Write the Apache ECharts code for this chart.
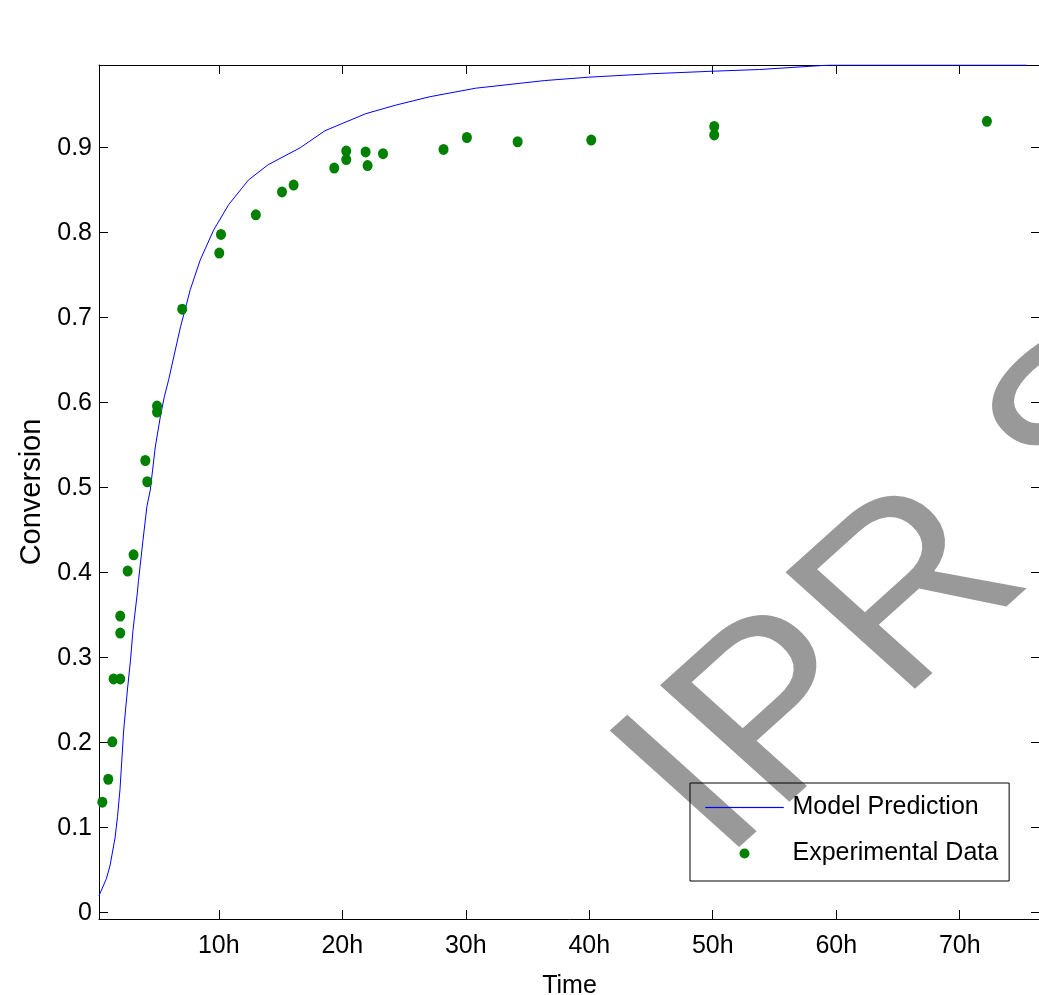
<!DOCTYPE html>
<html>
<head>
<meta charset="utf-8">
<script src="https://cdn.jsdelivr.net/npm/echarts@6/dist/echarts.min.js"></script>
<style>
  html, body { margin: 0; padding: 0; background: #fff; }
  #chart { width: 1039px; height: 995px; }
</style>
</head>
<body>
<div id="chart"></div>
<script>
// experimental points (time in h, conversion)
const expTime = [0.57, 1.05, 1.38, 1.48, 2.02, 2.02, 2.02, 2.62, 3.1, 4.05, 4.21, 5.0, 5.0,
  7.04, 10.04, 10.18, 13.0, 15.12, 16.06, 19.35, 20.32, 20.32, 21.89, 22.05, 23.3,
  28.2, 30.09, 34.2, 40.16, 50.12, 50.12, 72.2];
const expConv = [0.130, 0.157, 0.201, 0.275, 0.275, 0.329, 0.349, 0.402, 0.421, 0.532, 0.507, 0.596, 0.589,
  0.710, 0.776, 0.798, 0.821, 0.848, 0.856, 0.876, 0.896, 0.886, 0.895, 0.879, 0.893,
  0.898, 0.912, 0.907, 0.909, 0.925, 0.915, 0.931];

// model curve
const modelTime = [0.3, 0.9, 1.2, 1.6, 1.8, 2.0, 2.3, 2.6, 2.85, 3.05, 3.4, 3.5, 3.86, 4.18, 4.45,
  4.86, 5.26, 5.59, 5.94, 6.88, 7.69, 8.5, 9.58, 10.8, 12.4, 14.0, 16.6, 18.6, 21.9,
  24.3, 27.1, 30.8, 36.4, 40, 45, 50, 53.8, 59.5, 75.4];
const modelConv = [0.02, 0.04, 0.056, 0.088, 0.113, 0.145, 0.215, 0.262, 0.297, 0.332, 0.376, 0.391, 0.438, 0.478, 0.497,
  0.548, 0.583, 0.607, 0.627, 0.688, 0.733, 0.768, 0.803, 0.833, 0.862, 0.88, 0.90, 0.92, 0.94,
  0.95, 0.96, 0.97, 0.979, 0.983, 0.987, 0.99, 0.992, 0.9973, 0.9973];

const xTicks = [10, 20, 30, 40, 50, 60, 70];
const yTicks = [0, 0.1, 0.2, 0.3, 0.4, 0.5, 0.6, 0.7, 0.8, 0.9];

const font = "'Liberation Sans', Arial, sans-serif";

const chart = echarts.init(document.getElementById("chart"));

const xBase = {
  type: "value",
  min: 0.3,
  max: 76.5,
  splitLine: { show: false },
  axisLine: { show: true, onZero: false, lineStyle: { color: "#000", width: 1 } },
  axisTick: { show: true, inside: true, length: 9, customValues: xTicks, lineStyle: { color: "#000" } },
};
const yBase = {
  type: "value",
  min: -0.0074,
  max: 0.9973,
  splitLine: { show: false },
  axisLine: { show: true, onZero: false, lineStyle: { color: "#000", width: 1 } },
  axisTick: { show: true, inside: true, length: 9, customValues: yTicks, lineStyle: { color: "#000" } },
};

chart.setOption({
  backgroundColor: "#fff",
  animation: false,
  textStyle: { fontFamily: font },
  grid: { left: 99, top: 65, width: 941, height: 854, outerBoundsMode: "none", containLabel: false },
  graphic: [
    {
      type: "group",
      x: 670,
      y: 816,
      scaleX: 1,
      scaleY: 0.9,
      z: 1,
      silent: true,
      children: [
        {
          type: "text",
          rotation: Math.PI / 4,
          style: {
            text: "IPR S",
            fill: "#999",
            font: "266px " + font,
            align: "left",
            verticalAlign: "middle",
          },
        },
      ],
    },
  ],
  legend: {
    orient: "vertical",
    left: 690,
    top: 783,
    padding: [12, 11, 15, 15],
    itemWidth: 78,
    itemHeight: 10,
    itemGap: 21,
    borderColor: "#000",
    borderWidth: 1,
    backgroundColor: "transparent",
    z: 5,
    textStyle: { fontSize: 25, color: "#000", fontFamily: font, padding: [0, 0, 0, 4] },
    data: [
      {
        name: "Model Prediction",
        icon: "path://M0,0L78,0L78,0.2L0,0.2Z",
        itemStyle: { color: "#0000ff", borderColor: "#0000ff", borderWidth: 1 },
      },
      { name: "Experimental Data", icon: "circle", itemStyle: { color: "#008000", borderWidth: 0 } },
    ],
  },
  xAxis: [
    Object.assign({}, xBase, {
      position: "bottom",
      name: "Time",
      nameLocation: "middle",
      nameGap: 55,
      nameTextStyle: { fontSize: 25, color: "#000", fontFamily: font },
      axisLabel: {
        show: true,
        customValues: xTicks,
        fontSize: 25,
        color: "#000",
        margin: 15,
        formatter: "{value}h",
      },
    }),
    Object.assign({}, xBase, { position: "top", axisLabel: { show: false } }),
  ],
  yAxis: [
    Object.assign({}, yBase, {
      position: "left",
      name: "Conversion",
      nameLocation: "middle",
      nameGap: 52,
      nameTextStyle: { fontSize: 29, color: "#000", fontFamily: font },
      axisLabel: {
        show: true,
        customValues: yTicks,
        fontSize: 25,
        color: "#000",
        margin: 7,
        formatter: (v) => (v === 0 ? "0" : v.toFixed(1)),
      },
    }),
    Object.assign({}, yBase, { position: "right", axisLabel: { show: false } }),
  ],
  series: [
    {
      name: "Model Prediction",
      type: "line",
      xAxisIndex: 0,
      yAxisIndex: 0,
      symbol: "none",
      clip: true,
      z: 3,
      lineStyle: { color: "#0000ff", width: 1 },
      itemStyle: { color: "#0000ff" },
      data: modelTime.map((t, i) => [t, modelConv[i]]),
    },
    {
      name: "Experimental Data",
      type: "scatter",
      xAxisIndex: 0,
      yAxisIndex: 0,
      symbol: "circle",
      symbolSize: [10, 11],
      z: 4,
      itemStyle: { color: "#008000", opacity: 1 },
      data: expTime.map((t, i) => [t, expConv[i]]),
    },
  ],
});
</script>
</body>
</html>
